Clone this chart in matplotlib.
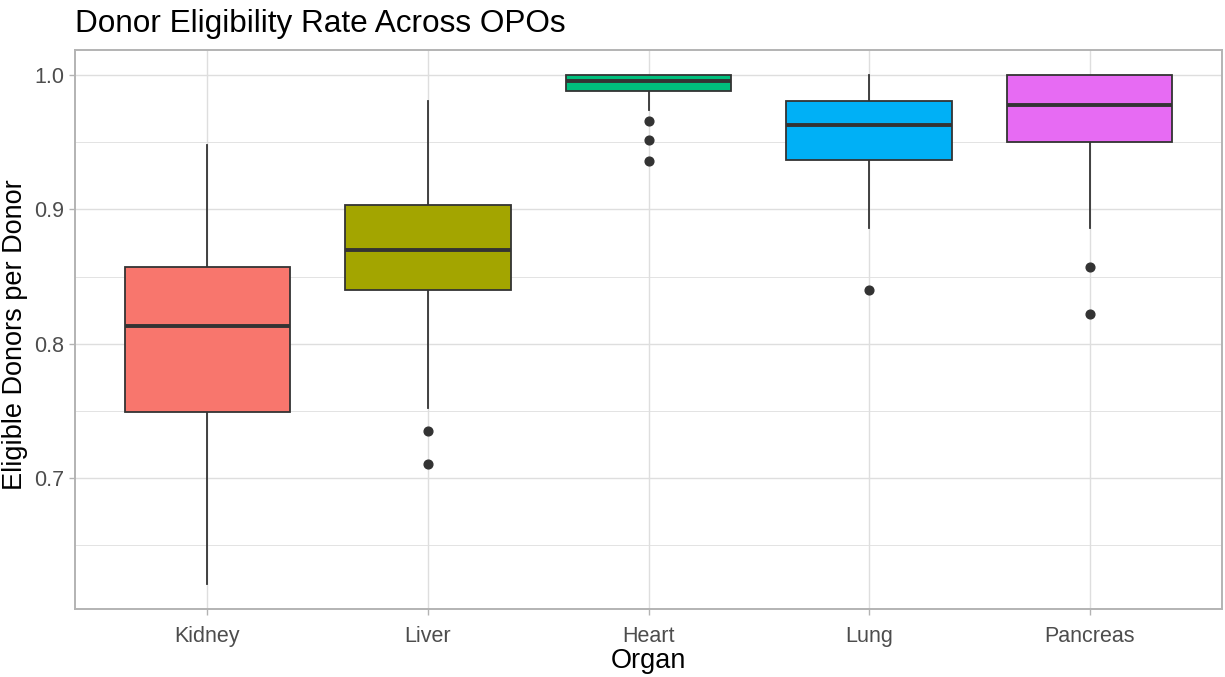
import matplotlib
matplotlib.use("Agg")
import matplotlib.pyplot as plt

plt.rcParams['font.family'] = ['Liberation Sans', 'DejaVu Sans']

organs = ["Kidney", "Liver", "Heart", "Lung", "Pancreas"]
colors = ["#F8766D", "#A3A500", "#00BF7D", "#00B0F6", "#E76BF3"]
whisker_low = [0.621, 0.752, 0.974, 0.886, 0.886]
q1 = [0.749, 0.840, 0.988, 0.937, 0.950]
median = [0.813, 0.870, 0.9955, 0.963, 0.978]
q3 = [0.857, 0.903, 1.000, 0.981, 1.000]
whisker_high = [0.948, 0.981, 1.000, 1.000, 1.000]
outliers = [[], [0.735, 0.710], [0.966, 0.952, 0.936], [0.840], [0.857, 0.822]]

fig = plt.figure(figsize=(12.25, 6.77), dpi=100)
ax = fig.add_axes([75/1225, 1-609/677, (1222-75)/1225, (609-50)/677])

stats = []
for i, name in enumerate(organs):
    stats.append(dict(label=name, whislo=whisker_low[i], q1=q1[i], med=median[i],
                      q3=q3[i], whishi=whisker_high[i], fliers=outliers[i]))

positions = list(range(1, len(organs) + 1))
bp = ax.bxp(stats, positions=positions, widths=0.75, patch_artist=True,
            showcaps=False,
            boxprops=dict(edgecolor="#333333", linewidth=1.3),
            whiskerprops=dict(color="#333333", linewidth=1.3),
            medianprops=dict(color="#333333", linewidth=2.8, solid_capstyle='butt'),
            flierprops=dict(marker='o', markerfacecolor="#333333", markeredgecolor="#333333",
                            markersize=6.3, linestyle='none'))
for patch, c in zip(bp['boxes'], colors):
    patch.set_facecolor(c)
    patch.set_zorder(3)
for k in ['whiskers', 'medians', 'fliers']:
    for a in bp[k]:
        a.set_zorder(3.5 if k != 'whiskers' else 2.9)

lo = min(whisker_low)
hi = max(whisker_high)
rng = hi - lo
ax.set_ylim(lo - 0.05 * rng, hi + 0.05 * rng)
ax.set_xlim(0.4, 5.6)

ax.set_yticks([0.7, 0.8, 0.9, 1.0])
ax.set_yticklabels(["0.7", "0.8", "0.9", "1.0"])
ax.set_yticks([0.65, 0.75, 0.85, 0.95], minor=True)
ax.set_xticks(positions)
ax.set_xticklabels(organs)

ax.grid(True, which='major', color="#DEDEDE", linewidth=1.0, zorder=0)
ax.grid(True, which='minor', axis='y', color="#DEDEDE", linewidth=0.6, zorder=0)
ax.set_axisbelow(True)

for s in ax.spines.values():
    s.set_color("#B3B3B3")
    s.set_linewidth(1.4)

ax.tick_params(axis='both', which='major', colors="#B3B3B3", labelcolor="#4D4D4D",
               labelsize=15.5, length=4.5, width=1.0)
ax.tick_params(axis='x', which='major', pad=7.5)
ax.tick_params(axis='y', which='minor', length=0)

ax.set_xlabel("Organ", fontsize=19.5, color="black", labelpad=1)
ax.set_ylabel("Eligible Donors per Donor", fontsize=19.5, color="black")
ax.yaxis.set_label_coords(-47/1147, 0.49)
ax.set_title("Donor Eligibility Rate Across OPOs", fontsize=22.7, color="black",
             loc='left', pad=13)

fig.savefig("out.png", dpi=100)
